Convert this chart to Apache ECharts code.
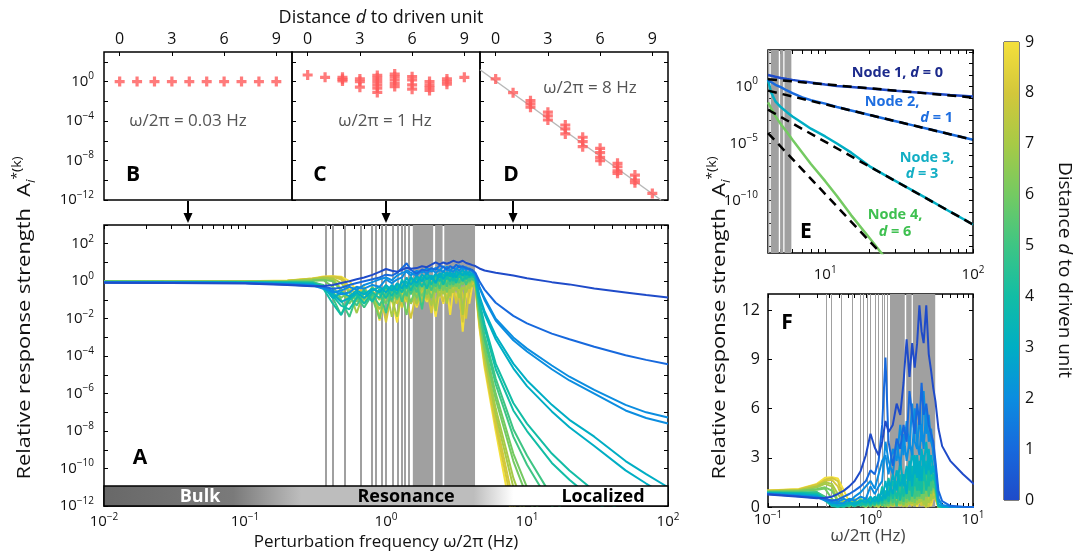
<!DOCTYPE html>
<html><head><meta charset="utf-8">
<script src="https://cdn.jsdelivr.net/npm/echarts@6.0.0/dist/echarts.min.js"></script>
<style>html,body{margin:0;padding:0;background:#fff;}#chart{width:1075px;height:555px;}</style>
</head><body><div id="chart"></div>
<script>
// ---------------- DATA ----------------
// Panel A / F : frequency grid (Hz) and log10 response strength per node curve
const freqHz = [0.01,0.03,0.1,0.2,0.3,0.36,0.42,0.48,0.55,0.62,0.7,0.8,0.9,1.0,1.1,1.2,1.3,1.4,1.5,1.65,1.8,1.95,2.1,2.25,2.4,2.55,2.7,2.85,3.0,3.15,3.3,3.5,3.7,3.9,4.1,4.3,4.6,5,6,8,10,15,20,30,50,70,100];
const respLog_d0  = [-0.08,-0.09,-0.12,-0.2,-0.27,-0.25,-0.2,-0.1,0.0,0.1,0.2,0.34,0.5,0.65,0.56,0.5,0.6,0.72,0.66,0.7,0.8,0.75,0.88,1.01,0.9,1.0,0.93,1.0,1.09,1.03,1.0,1.09,0.97,0.92,0.86,0.81,0.68,0.57,0.45,0.3,0.16,-0.05,-0.17,-0.39,-0.6,-0.74,-0.87];
const respLog_d1  = [-0.07,-0.08,-0.1,-0.18,-0.25,-0.3,-0.4,-0.35,-0.2,-0.1,0.0,0.1,0.2,0.35,0.3,0.45,0.7,0.96,0.6,0.4,0.62,0.55,0.7,0.6,0.85,0.75,0.65,0.8,0.7,0.88,0.75,0.8,0.7,0.65,0.6,0.45,0.0,-0.45,-1.15,-1.85,-2.25,-2.8,-3.1,-3.5,-3.95,-4.2,-4.43];
const respLog_d2a = [-0.06,-0.07,-0.09,-0.15,-0.2,-0.35,-0.6,-0.5,-0.3,-0.45,-0.2,-0.05,0.1,0.2,0.05,0.3,0.45,0.5,0.3,0.55,0.45,0.7,0.5,0.72,0.55,0.8,0.6,0.55,0.75,0.6,0.85,0.65,0.75,0.6,0.55,0.4,-0.3,-0.9,-2.0,-3.0,-3.6,-4.5,-5.1,-5.8,-6.6,-7.0,-7.28];
const respLog_d2b = [-0.06,-0.07,-0.1,-0.16,-0.22,-0.4,-0.5,-0.7,-0.6,-0.3,-0.4,-0.2,-0.3,0.1,-0.1,0.1,0.2,0.6,0.45,0.3,0.6,0.4,0.65,0.45,0.6,0.5,0.78,0.6,0.5,0.7,0.55,0.78,0.6,0.68,0.5,0.38,-0.35,-1.0,-2.1,-3.15,-3.75,-4.7,-5.3,-6.0,-6.9,-7.3,-7.6];
const respLog_d3a = [-0.05,-0.06,-0.08,-0.1,-0.15,-0.3,-0.9,-0.6,-0.8,-0.5,-0.7,-0.4,-0.6,-0.2,-0.5,-0.1,-0.4,0.2,-0.2,0.3,0.0,0.45,0.1,0.4,0.2,0.55,0.3,0.5,0.2,0.55,0.4,0.6,0.35,0.5,0.35,0.3,-0.8,-1.6,-2.9,-4.4,-5.3,-6.6,-7.4,-8.3,-9.6,-10.3,-11.0];
const respLog_d3b = [-0.05,-0.06,-0.08,-0.11,-0.17,-0.35,-0.7,-1.1,-0.9,-0.6,-0.9,-0.5,-0.3,-0.6,-0.2,-0.5,0.0,-0.3,0.2,-0.1,0.35,0.1,0.3,-0.1,0.45,0.1,0.5,0.25,0.45,0.2,0.5,0.3,0.55,0.3,0.4,0.25,-0.9,-1.75,-3.1,-4.65,-5.6,-6.95,-7.8,-8.8,-10.1,-10.8,-11.5];
const respLog_d4a = [-0.04,-0.05,-0.06,-0.08,-0.1,-0.4,-1.2,-1.8,-1.0,-0.7,-1.2,-0.6,-0.9,-0.3,-0.8,-0.2,-0.6,0.0,-0.5,0.2,-0.3,0.3,-0.2,0.35,0.0,0.4,0.1,0.45,0.0,0.4,0.2,0.45,0.1,0.4,0.25,0.2,-1.1,-2.3,-4.4,-6.5,-7.6,-9.2,-10.1,-11.2,-12.5,-13.2,-14.0];
const respLog_d4b = [-0.04,-0.05,-0.06,-0.07,-0.09,-0.3,-0.8,-1.3,-1.5,-0.9,-0.5,-1.1,-0.4,-0.9,-0.3,-0.7,0.1,-0.4,0.25,-0.3,0.2,-0.4,0.3,-0.1,0.35,-0.2,0.3,0.0,0.35,-0.1,0.4,0.0,0.35,0.2,0.3,0.15,-1.25,-2.5,-4.7,-6.9,-8.0,-9.7,-10.6,-11.7,-13.0,-13.7,-14.5];
const respLog_d5a = [-0.03,-0.04,-0.05,-0.06,-0.05,-0.2,-0.9,-1.8,-0.8,-1.3,-0.6,-1.0,-0.5,-1.7,-0.4,-0.9,-0.2,-0.8,0.1,-0.6,0.2,-0.4,0.25,-0.3,0.3,-0.1,0.4,-0.2,0.3,0.0,0.45,0.1,0.4,0.0,0.3,0.1,-1.5,-2.9,-5.2,-7.9,-9.3,-11.5,-12.7,-14.0,-15.0,-15.5,-16.0];
const respLog_d5b = [-0.03,-0.04,-0.05,-0.05,-0.04,-0.25,-0.6,-1.0,-1.9,-0.8,-1.4,-0.7,-1.3,-0.6,-1.0,-0.3,-1.1,-0.2,-0.7,0.0,-1.5,0.1,-0.5,0.2,-0.4,0.3,-0.3,0.35,-0.2,0.3,-0.1,0.35,-0.2,0.3,0.1,0.05,-1.6,-3.1,-5.5,-8.3,-9.8,-12.0,-13.2,-14.5,-15.5,-16.0,-16.5];
const respLog_d6a = [-0.02,-0.02,-0.03,-0.02,0.02,0.05,-0.3,-0.9,-0.5,-1.1,-0.4,-0.9,-2.0,-0.5,-1.1,-0.3,-0.8,-1.8,-0.2,-0.9,-0.1,-0.7,0.0,-0.6,0.1,-0.5,0.2,-0.4,0.25,-0.3,0.2,-0.2,0.3,-0.1,0.2,0.0,-1.8,-3.4,-6.0,-9.2,-11.0,-13.5,-15.0,-16.0,-17.0,-17.5,-18.0];
const respLog_d6b = [-0.02,-0.02,-0.03,-0.01,0.04,0.08,0.0,-0.5,-1.2,-0.6,-1.0,-0.3,-0.7,-1.2,-0.4,-1.0,-0.2,-0.6,-1.1,-0.3,-0.8,-0.2,-0.9,0.0,-0.5,0.1,-0.6,0.2,-0.3,0.15,-0.4,0.25,-0.1,0.2,0.1,-0.05,-1.9,-3.6,-6.3,-9.6,-11.5,-14.0,-15.5,-16.5,-17.5,-18.0,-18.5];
const respLog_d7a = [-0.01,-0.01,-0.02,0.0,0.08,0.15,0.1,-0.4,-1.0,-0.4,-1.2,-0.5,-1.0,-0.3,-1.9,-0.6,-0.2,-1.0,-0.4,-1.2,-0.3,-0.9,-0.2,-1.6,-0.1,-0.7,0.0,-0.8,0.1,-0.5,0.0,-1.8,0.1,-0.4,0.05,-0.1,-2.0,-3.8,-6.8,-10.5,-12.5,-15.0,-16.5,-17.5,-18.5,-19.0,-19.5];
const respLog_d7b = [-0.01,-0.01,-0.02,0.01,0.1,0.18,0.15,-0.1,-0.6,-1.7,-0.5,-0.8,-1.5,-0.6,-0.9,-1.9,-0.5,-0.3,-1.2,-0.6,-1.0,-0.4,-1.3,-0.3,-0.8,-0.2,-1.2,-0.3,-0.6,-0.1,-0.9,-0.3,-0.6,0.0,-0.3,-0.15,-2.1,-4.0,-7.1,-11.0,-13.0,-15.5,-17.0,-18.0,-19.0,-19.5,-20.0];
const respLog_d8a = [0.0,0.0,-0.01,0.02,0.12,0.22,0.25,0.2,-0.3,-0.8,-0.3,-1.1,-0.4,-2.2,-0.5,-1.2,-0.4,-0.9,-2.0,-0.5,-1.2,-0.4,-1.7,-0.3,-0.8,-0.2,-1.0,-0.1,-0.6,0.0,-0.9,-2.2,-0.2,-0.6,0.0,-0.2,-2.2,-4.2,-7.4,-11.8,-14.0,-16.5,-18.0,-19.0,-20.0,-20.5,-21.0];
const respLog_d8b = [0.0,0.0,0.0,0.03,0.14,0.2,0.22,0.1,-0.5,-0.3,-0.9,-0.4,-1.9,-0.7,-1.0,-0.4,-1.4,-0.6,-0.3,-1.3,-0.5,-1.0,-0.3,-1.2,-0.4,-1.1,-0.2,-0.9,-0.3,-1.2,-0.2,-0.7,-2.0,-0.3,-0.1,-0.25,-2.35,-4.4,-7.7,-12.3,-14.5,-17.0,-18.5,-19.5,-20.5,-21.0,-21.5];
const respLog_d9  = [0.01,0.01,0.0,0.04,0.15,0.25,0.26,0.24,0.0,-0.5,-1.0,-0.4,-2.1,-0.6,-1.0,-2.2,-0.5,-1.1,-0.3,-1.4,-0.6,-1.1,-0.4,-1.9,-0.5,-1.2,-0.3,-1.8,-0.4,-0.9,-0.3,-2.7,-0.5,-1.2,-0.2,-0.3,-2.5,-4.6,-8.0,-13.0,-15.0,-17.5,-19.0,-20.0,-21.0,-21.5,-22.0];
const curveDistance = [9,8,8,7,7,6,6,5,5,4,4,3,3,2,2,1,0];
const curveValues = [respLog_d9,respLog_d8a,respLog_d8b,respLog_d7a,respLog_d7b,respLog_d6a,respLog_d6b,respLog_d5a,respLog_d5b,respLog_d4a,respLog_d4b,respLog_d3a,respLog_d3b,respLog_d2a,respLog_d2b,respLog_d1,respLog_d0];

// eigenfrequencies (Hz) drawn as grey lines, dense eigenfrequency bands
const eigenFreqHz = [0.369,0.419,0.512,0.655,0.793,0.845,0.933,1.01,1.11,1.20,1.28,1.35,1.43];
const denseBandHz = [[1.55,2.16],[2.23,2.52],[2.59,4.28]];

// Panels B, C, D : distance d vs log10 response
const distTicks = [0,3,6,9];
const distB = [0,1,2,3,4,5,6,7,8,9];
const respLogB = [0,0,0,0,0,0,0,0,0,0];
const distC = [0,1,2,2,2,3,3,3,4,4,4,4,4,4,5,5,5,5,5,6,6,6,6,7,7,7,7,8,8,8,9];
const respLogC = [0.67,0.43,0.43,0.23,0.07,0.27,0,-0.57,0.63,0.33,0,-0.33,-0.67,-1.1,0.77,0.5,0.17,-0.17,-0.5,0.5,0.17,-0.33,-0.77,0,-0.33,-0.6,-0.9,0.27,0,-0.27,0.43];
const distD = [0,1,2,2,2,3,3,3,4,4,4,5,5,5,6,6,6,6,7,7,7,7,8,8,8,9];
const respLogD = [0.27,-1.12,-1.93,-2.26,-2.6,-3.1,-3.48,-3.89,-4.4,-4.8,-5.3,-5.64,-6.09,-6.6,-6.76,-7.2,-7.67,-8.02,-8.28,-8.63,-9.04,-9.3,-9.47,-9.98,-10.25,-11.33];
const fitDistD = [-0.9, 9.5];
const fitRespLogD = [1.2, -12];

// Panel E : high-frequency tails and power-law asymptotes
const freqE = [4.1,4.3,4.6,5,5.5,6,7,8,10,12,15,20,25,30,40,50,70,100];
const respLogE_node1 = [1.0,0.95,0.85,0.75,0.66,0.58,0.45,0.35,0.18,0.05,-0.05,-0.18,-0.28,-0.38,-0.5,-0.6,-0.74,-0.88];
const respLogE_node2 = [0.58,0.4,0.15,-0.05,-0.35,-0.58,-0.95,-1.2,-1.5,-1.8,-2.1,-2.5,-2.8,-3.04,-3.43,-3.73,-4.18,-4.67];
const respLogE_node3 = [0.6,-0.5,-1.3,-1.8,-2.25,-2.63,-3.2,-3.7,-4.38,-5.0,-5.8,-7.0,-7.73,-8.3,-9.2,-9.9,-10.98,-12.1];
const respLogE_node4 = [-1.4,-1.9,-2.6,-3.3,-4.0,-4.67,-5.8,-6.8,-8.3,-9.6,-11.3,-13.3,-14.9,-16,-17,-18,-19,-20];
const asymFreqE = [4.1, 100];
const asymLogE_node1 = [0.64, -0.97];
const asymLogE_node2 = [-0.36, -4.67];
const asymLogE_node3 = [-2.04, -12.1];
const asymFreqE_node4 = [4.1, 23.3];
const asymLogE_node4 = [-4.08, -14.5];
const eigenBandE = [[4.1,4.19],[4.28,4.85],[4.95,5.2],[5.3,5.9]];

// Tick labels
const decadeLabelsA = [-12,-10,-8,-6,-4,-2,0,2];
const decadeLabelsB = [-12,-8,-4,0];
const decadeLabelsE = [-10,-5,0];
const linearLabelsF = [0,3,6,9,12];
const colorbarLabels = [0,1,2,3,4,5,6,7,8,9];

// ---------------- STYLE ----------------
const FONT = "'Open Sans','Noto Sans',sans-serif";
const cmap = ['#1f4bc9','#1769dd','#0b8de0','#00aec4','#12bda5','#3ec584','#74ca62','#a7ca46','#d3c73b','#f4e03b'];
const L10 = Math.log10;
function supFmt(v){ const s = v < 0 ? '\u2212' + (-v) : String(v); return '{b|10}{s|' + s + '}'; }
const supRich = {
  b:{fontFamily:FONT,fontSize:15,color:'#111',lineHeight:20},
  s:{fontFamily:FONT,fontSize:10,color:'#111',lineHeight:11,verticalAlign:'top'}
};
function decadeMinors(lo, hi){ const out=[]; for(let n=lo;n<hi;n++){ for(let k=1;k<10;k++){ out.push(n+L10(k)); } } out.push(hi); return out; }
function range(a,b){ const o=[]; for(let i=a;i<=b;i++) o.push(i); return o; }

const tickStyle = {show:true,inside:true,length:4,lineStyle:{color:'#000',width:1}};
function axis(o){
  const base = {type:'value',axisLine:{show:false,onZero:false},splitLine:{show:false},axisTick:Object.assign({},tickStyle),axisLabel:{show:false}};
  return Object.assign(base,o);
}
function grid(l,t,w,h,bw){ return {left:l,top:t,width:w,height:h,show:true,borderColor:'#000',borderWidth:bw||1.5,backgroundColor:'rgba(0,0,0,0)',outerBoundsMode:'none',containLabel:false}; }

const grids = [grid(104,52,188,148),grid(292,52,188,148),grid(480,52,188,148),grid(104,225,564,281),grid(768,50,205,203),grid(768,294,205,213),grid(1004,42,15,458,1)];

const topDistAxis = (gi)=>axis({gridIndex:gi,position:'top',min:-0.9,max:9.9,
  axisTick:Object.assign({},tickStyle,{customValues:distTicks}),
  axisLabel:{show:true,customValues:distTicks,fontFamily:FONT,fontSize:16,color:'#111',margin:5}});

const xAxes = [
  topDistAxis(0), topDistAxis(1), topDistAxis(2),
  axis({gridIndex:3,position:'bottom',min:-2,max:2,axisTick:Object.assign({},tickStyle,{customValues:decadeMinors(-2,2)}),
        axisLabel:{show:true,customValues:[-2,-1,0,1,2],formatter:supFmt,rich:supRich,margin:6}}),
  axis({gridIndex:3,position:'top',min:-2,max:2,axisTick:Object.assign({},tickStyle,{customValues:decadeMinors(-2,2)})}),
  axis({gridIndex:4,position:'bottom',min:L10(4.1),max:2,axisTick:Object.assign({},tickStyle,{customValues:decadeMinors(0,2).filter(v=>v>=L10(4.1))}),
        axisLabel:{show:true,customValues:[1,2],formatter:supFmt,rich:supRich,margin:12}}),
  axis({gridIndex:4,position:'top',min:L10(4.1),max:2,axisTick:Object.assign({},tickStyle,{customValues:decadeMinors(0,2).filter(v=>v>=L10(4.1))})}),
  axis({gridIndex:5,position:'bottom',min:-1,max:1,axisTick:Object.assign({},tickStyle,{customValues:decadeMinors(-1,1)}),
        axisLabel:{show:true,customValues:[-1,0,1],formatter:supFmt,rich:supRich,margin:3}}),
  axis({gridIndex:5,position:'top',min:-1,max:1,axisTick:Object.assign({},tickStyle,{customValues:decadeMinors(-1,1)})}),
  axis({gridIndex:6,min:0,max:1,show:false})
];

const evenDec = range(-6,1).map(v=>2*v);
const yAxes = [
  axis({gridIndex:0,position:'left',min:-12,max:3,axisTick:Object.assign({},tickStyle,{customValues:evenDec}),
        axisLabel:{show:true,customValues:decadeLabelsB,formatter:supFmt,rich:supRich,margin:10}}),
  axis({gridIndex:1,position:'left',min:-12,max:3,axisTick:Object.assign({},tickStyle,{customValues:evenDec})}),
  axis({gridIndex:2,position:'left',min:-12,max:3,axisTick:Object.assign({},tickStyle,{customValues:evenDec})}),
  axis({gridIndex:2,position:'right',min:-12,max:3,axisTick:Object.assign({},tickStyle,{customValues:evenDec})}),
  axis({gridIndex:3,position:'left',min:-12,max:3,axisTick:Object.assign({},tickStyle,{customValues:range(-12,3)}),
        axisLabel:{show:true,customValues:decadeLabelsA,formatter:supFmt,rich:supRich,margin:10}}),
  axis({gridIndex:3,position:'right',min:-12,max:3,axisTick:Object.assign({},tickStyle,{customValues:range(-12,3)})}),
  axis({gridIndex:4,position:'left',min:-14.6,max:3.2,axisTick:Object.assign({},tickStyle,{customValues:range(-14,3)}),
        axisLabel:{show:true,customValues:decadeLabelsE,formatter:supFmt,rich:supRich,margin:10}}),
  axis({gridIndex:4,position:'right',min:-14.6,max:3.2,axisTick:Object.assign({},tickStyle,{customValues:range(-14,3)})}),
  axis({gridIndex:5,position:'left',min:0,max:13,axisTick:Object.assign({},tickStyle,{customValues:linearLabelsF}),
        axisLabel:{show:true,customValues:linearLabelsF,fontFamily:FONT,fontSize:16,color:'#111',margin:8}}),
  axis({gridIndex:5,position:'right',min:0,max:13,axisTick:Object.assign({},tickStyle,{customValues:linearLabelsF})}),
  axis({gridIndex:6,position:'left',min:0,max:9,axisTick:Object.assign({},tickStyle,{length:3,customValues:range(1,8)})}),
  axis({gridIndex:6,position:'right',min:0,max:9,axisTick:Object.assign({},tickStyle,{length:3,customValues:range(1,8)}),
        axisLabel:{show:true,customValues:colorbarLabels,fontFamily:FONT,fontSize:16,color:'#111',margin:6}})
];

// ---------------- SERIES ----------------
const series = [];
const plus = 'path://M3.4,0H6.6V3.4H10V6.6H6.6V10H3.4V6.6H0V3.4H3.4Z';
function scatter(xi, yi, xs, ys){
  series.push({type:'scatter',xAxisIndex:xi,yAxisIndex:yi,symbol:plus,symbolSize:10,silent:true,z:5,
    itemStyle:{color:'#ff5a5a'},data:xs.map((x,i)=>[x,ys[i]])});
}
scatter(0,0,distB,respLogB);
scatter(1,1,distC,respLogC);
series.push({type:'line',xAxisIndex:2,yAxisIndex:2,symbol:'none',silent:true,z:3,lineStyle:{color:'#b8b8b8',width:1.5},
  data:fitDistD.map((x,i)=>[x,fitRespLogD[i]])});
scatter(2,2,distD,respLogD);

function carrier(xi, yi, p, extra){ return Object.assign({type:'line',xAxisIndex:xi,yAxisIndex:yi,data:[p],symbol:'none',silent:true,lineStyle:{opacity:0}}, extra); }

// Panel A: eigenfrequencies
series.push(carrier(3,4,[-2,-12],{
  markArea:{silent:true,z:1,itemStyle:{color:'#a0a0a0'},label:{show:false},
    data:denseBandHz.map(b=>[{xAxis:L10(b[0])},{xAxis:L10(b[1])}])},
  markLine:{silent:true,z:1,symbol:['none','none'],label:{show:false},lineStyle:{color:'#a0a0a0',width:2,type:'solid'},
    emphasis:{disabled:true},data:eigenFreqHz.map(f=>({xAxis:L10(f)}))}
}));
curveValues.forEach((vals,ci)=>{
  series.push({type:'line',xAxisIndex:3,yAxisIndex:4,symbol:'none',showSymbol:false,silent:true,z:3,
    lineStyle:{color:cmap[curveDistance[ci]],width:2},data:freqHz.map((f,i)=>[L10(f),vals[i]])});
});
series.push(carrier(3,4,[-2,-12],{
  markArea:{silent:true,z:10,label:{show:false},
    data:[[{coord:[-2,-12],itemStyle:{borderColor:'#000',borderWidth:1.5,
      color:new echarts.graphic.LinearGradient(0,0,1,0,[
        {offset:0,color:'#686868'},{offset:0.23,color:'#7a7a7a'},{offset:0.29,color:'#9c9c9c'},
        {offset:0.35,color:'#bdbdbd'},{offset:0.655,color:'#bdbdbd'},{offset:0.725,color:'#ffffff'},{offset:1,color:'#ffffff'}])}},
      {coord:[2,-10.93]}]]}
}));

// Panel E
series.push(carrier(5,6,[L10(4.1),-14.6],{
  markArea:{silent:true,z:1,itemStyle:{color:'#a0a0a0'},label:{show:false},
    data:eigenBandE.map(b=>[{xAxis:L10(b[0])},{xAxis:L10(b[1])}])}
}));
const nodeE = [[respLogE_node4,cmap[6]],[respLogE_node3,cmap[3]],[respLogE_node2,cmap[1]],[respLogE_node1,cmap[0]]];
nodeE.forEach(([vals,col])=>{
  series.push({type:'line',xAxisIndex:5,yAxisIndex:6,symbol:'none',silent:true,z:3,
    lineStyle:{color:col,width:2.5},data:freqE.map((f,i)=>[L10(f),vals[i]])});
});
[[asymFreqE,asymLogE_node1],[asymFreqE,asymLogE_node2],[asymFreqE,asymLogE_node3],[asymFreqE_node4,asymLogE_node4]].forEach(([fs,vs])=>{
  series.push({type:'line',xAxisIndex:5,yAxisIndex:6,symbol:'none',silent:true,z:4,
    lineStyle:{color:'#000',width:2.5,type:[9,6]},data:fs.map((f,i)=>[L10(f),vs[i]])});
});

// Panel F (same curves, linear response)
series.push(carrier(7,8,[-1,0],{
  markArea:{silent:true,z:1,itemStyle:{color:'#a0a0a0'},label:{show:false},
    data:denseBandHz.map(b=>[{xAxis:L10(b[0])},{xAxis:L10(b[1])}])},
  markLine:{silent:true,z:1,symbol:['none','none'],label:{show:false},lineStyle:{color:'#a0a0a0',width:1,type:'solid'},
    emphasis:{disabled:true},data:eigenFreqHz.map(f=>({xAxis:L10(f)}))}
}));
curveValues.forEach((vals,ci)=>{
  series.push({type:'line',xAxisIndex:7,yAxisIndex:8,symbol:'none',silent:true,z:3,
    lineStyle:{color:cmap[curveDistance[ci]],width:2},data:freqHz.map((f,i)=>[L10(f),Math.pow(10,vals[i])])});
});

// Colorbar
series.push(carrier(9,10,[0,0],{
  markArea:{silent:true,z:1,label:{show:false},
    data:[[{coord:[0,0],itemStyle:{color:new echarts.graphic.LinearGradient(0,1,0,0,cmap.map((c,i)=>({offset:i/9,color:c})))}},{coord:[1,9]}]]}
}));

// ---------------- TEXT / ANNOTATIONS ----------------
function T(x,y,text,st,rot,sx){
  const style = Object.assign({text:text,fill:'#111',fontFamily:FONT,fontSize:16,align:'center',verticalAlign:'middle',textAlign:'center',textVerticalAlign:'middle'},st||{});
  return {type:'text',x:x,y:y,rotation:rot||0,scaleX:sx||1,z:100,silent:true,style:style};
}
const bold = {fontWeight:'bold',fontSize:21,fill:'#000'};
const nodeRich = (col)=>({n:{fontFamily:FONT,fontWeight:'bold',fontSize:14.5,fill:col,color:col},
  d:{fontFamily:FONT,fontWeight:'bold',fontStyle:'italic',fontSize:14.5,fill:col,color:col}});
const ylabRich = {n:{fontFamily:FONT,fontSize:19,color:'#111',lineHeight:26},a:{fontFamily:FONT,fontSize:19,color:'#111',lineHeight:26},
  i:{fontFamily:FONT,fontSize:12,fontStyle:'italic',color:'#111',verticalAlign:'bottom',lineHeight:12},
  s:{fontFamily:FONT,fontSize:12,color:'#111',verticalAlign:'top',lineHeight:12}};
const ylabText = '{n|Relative response strength  }{a|A}{i|i}{s|*(k)}';
const graphics = [
  T(381,18,'{n|Distance }{d|d}{n| to driven unit}',{rich:{n:{fontFamily:FONT,fontSize:18,color:'#111'},d:{fontFamily:FONT,fontSize:18,fontStyle:'italic',color:'#111'}}}),
  T(386,542,'Perturbation frequency \u03c9/2\u03c0 (Hz)',{fontSize:17}),
  T(868,536,'\u03c9/2\u03c0 (Hz)',{fontSize:17,fill:'#444'}),
  T(25,318,ylabText,{rich:ylabRich},Math.PI/2,1.15),
  T(720,318,ylabText,{rich:ylabRich},Math.PI/2,1.15),
  T(1064,270,'{n|Distance }{d|d}{n| to driven unit}',{rich:{n:{fontFamily:FONT,fontSize:19,color:'#111'},d:{fontFamily:FONT,fontSize:19,fontStyle:'italic',color:'#111'}}},-Math.PI/2),
  T(188,121,'\u03c9/2\u03c0 = 0.03 Hz',{fontSize:17,fill:'#555'}),
  T(385,121,'\u03c9/2\u03c0 = 1 Hz',{fontSize:17,fill:'#555'}),
  T(590,88,'\u03c9/2\u03c0 = 8 Hz',{fontSize:17,fill:'#555'}),
  T(133,175,'B',bold), T(320,175,'C',bold), T(511,175,'D',bold), T(140,458,'A',bold), T(806,232,'E',bold), T(787,323,'F',bold),
  T(200,497,'Bulk',{fontWeight:'bold',fontSize:18,fill:'#fff'}),
  T(406,497,'Resonance',{fontWeight:'bold',fontSize:18,fill:'#000'}),
  T(603,497,'Localized',{fontWeight:'bold',fontSize:18,fill:'#000'}),
  T(943,73,'{n|Node 1, }{d|d}{n| = 0}',{align:'right',textAlign:'right',rich:nodeRich('#1c2a8c')}),
  T(892,102,'{n|Node 2,}',{rich:nodeRich('#1e6ee0')}),
  T(953,118,'{d|d}{n| = 1}',{align:'right',textAlign:'right',rich:nodeRich('#1e6ee0')}),
  T(927,158,'{n|Node 3,}',{rich:nodeRich('#12aec4')}),
  T(922,174,'{d|d}{n| = 3}',{rich:nodeRich('#12aec4')}),
  T(895,215,'{n|Node 4,}',{rich:nodeRich('#3ec050')}),
  T(895,232,'{d|d}{n| = 6}',{rich:nodeRich('#3ec050')})
];
[188,386,513].forEach(x=>{
  graphics.push({type:'line',z:100,silent:true,shape:{x1:x,y1:201,x2:x,y2:216},style:{stroke:'#000',lineWidth:2}});
  graphics.push({type:'polygon',z:100,silent:true,shape:{points:[[x-4.5,213],[x+4.5,213],[x,223]]},style:{fill:'#000'}});
});

const chart = echarts.init(document.getElementById('chart'),null,{renderer:'canvas'});
chart.setOption({animation:false,backgroundColor:'#fff',textStyle:{fontFamily:FONT},
  grid:grids,xAxis:xAxes,yAxis:yAxes,series:series,graphic:graphics});
</script></body></html>
